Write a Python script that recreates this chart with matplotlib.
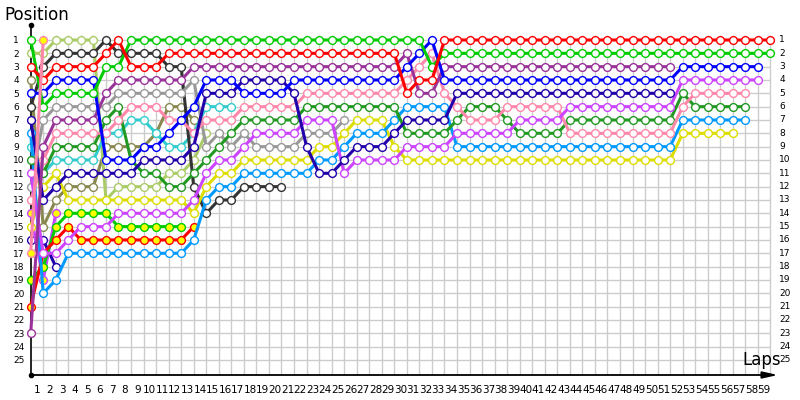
import matplotlib
matplotlib.use("Agg")
import matplotlib.pyplot as plt
from matplotlib.transforms import blended_transform_factory

# positions per lap, index 0 = grid
RED = [3, 4, 3, 3, 3, 3, 2, 1, 3, 3, 3, 2, 2, 2, 2, 2, 2, 2, 2, 2, 2, 2, 2, 2, 2, 2, 2, 2, 2, 2,
       5, 4, 4, 1, 1, 1, 1, 1, 1, 1, 1, 1, 1, 1, 1, 1, 1, 1, 1, 1, 1, 1, 1, 1, 1, 1, 1, 1, 1, 1]
GREEN = [1, 6, 5, 5, 5, 5, 3, 3, 1, 1, 1, 1, 1, 1, 1, 1, 1, 1, 1, 1, 1, 1, 1, 1, 1, 1, 1, 1, 1, 1,
         1, 1, 3, 2, 2, 2, 2, 2, 2, 2, 2, 2, 2, 2, 2, 2, 2, 2, 2, 2, 2, 2, 2, 2, 2, 2, 2, 2, 2, 2]
PURPLE = [23, 9, 7, 7, 7, 7, 5, 4, 4, 4, 4, 4, 4, 3, 3, 3, 3, 3, 3, 3, 3, 3, 3, 3, 3, 3, 3, 3, 3, 3,
          2, 5, 5, 3, 3, 3, 3, 3, 3, 3, 3, 3, 3, 3, 3, 3, 3, 3, 3, 3, 3, 3]
BLUE = [5, 5, 4, 4, 4, 4, 10, 10, 10, 9, 9, 8, 7, 6, 4, 4, 4, 5, 5, 5, 5, 4, 4, 4, 4, 4, 4, 4, 4, 4,
        3, 2, 1, 4, 4, 4, 4, 4, 4, 4, 4, 4, 4, 4, 4, 4, 4, 4, 4, 4, 4, 4, 3, 3, 3, 3, 3, 3, 3]
NAVY = [7, 13, 12, 11, 11, 11, 11, 11, 11, 10, 10, 10, 10, 9, 5, 5, 5, 4, 4, 4, 4, 5, 9, 11, 11, 10,
        9, 9, 9, 8, 7, 7, 7, 7, 5, 5, 5, 5, 5, 5, 5, 5, 5, 5, 5, 5, 5, 5, 5, 5, 5, 5]
PINK = [13, 10, 8, 8, 8, 8, 8, 7, 6, 6, 6, 7, 7, 8, 7, 7, 7, 6, 6, 6, 6, 6, 5, 5, 5, 5, 5, 5, 5, 5,
        4, 3, 2, 5, 6, 7, 7, 7, 6, 6, 6, 6, 6, 8, 8, 8, 8, 8, 8, 8, 8, 8, 6, 5, 5, 5, 5, 5]
DKGREEN = [10, 11, 9, 9, 9, 9, 7, 6, 10, 11, 11, 12, 12, 11, 10, 9, 8, 7, 7, 7, 7, 7, 6, 6, 6, 6,
           6, 6, 6, 6, 8, 8, 8, 8, 7, 6, 6, 6, 7, 8, 8, 8, 8, 7, 7, 7, 7, 7, 7, 7, 7, 7, 5, 6, 6,
           6, 6, 6]
LTBLUE = [8, 20, 19, 17, 17, 17, 17, 17, 17, 17, 17, 17, 17, 16, 13, 12, 12, 11, 11, 11, 11, 11,
          11, 10, 10, 9, 8, 8, 8, 7, 6, 6, 6, 6, 9, 9, 9, 9, 9, 9, 9, 9, 9, 9, 9, 9, 9, 9, 9, 9,
          9, 9, 7, 7, 7, 7, 7, 7]
YELLOW = [15, 12, 11, 13, 13, 13, 13, 13, 13, 13, 13, 13, 13, 14, 12, 11, 11, 10, 10, 10, 10, 10,
          10, 9, 9, 8, 7, 7, 7, 9, 10, 10, 10, 10, 10, 10, 10, 10, 10, 10, 10, 10, 10, 10, 10, 10,
          10, 10, 10, 10, 10, 10, 8, 8, 8, 8, 8]
VIOLET = [11, 17, 17, 16, 15, 15, 15, 14, 14, 14, 14, 14, 14, 13, 11, 10, 10, 9, 8, 8, 8, 8, 7, 7,
          7, 11, 10, 10, 10, 10, 9, 9, 9, 9, 8, 8, 8, 8, 8, 7, 7, 7, 7, 6, 6, 6, 6, 6, 6, 6, 6, 6,
          4, 4, 4, 4, 4, 4, 4]
GRAY = [12, 7, 6, 6, 6, 6, 6, 5, 5, 5, 5, 5, 5, 4, 9, 8, 9, 8, 9, 9, 9, 9, 8, 8, 8, 7]
DKGRAY = [6, 3, 2, 2, 2, 2, 1, 2, 2, 2, 2, 3, 3, 12, 14, 13, 13, 12, 12, 12, 12]
CYAN = [9, 11, 10, 10, 10, 10, 8, 8, 7, 7, 8, 9, 9, 8, 6, 6, 6]
OLIVE = [4, 15, 13, 12, 12, 12, 9, 9, 9, 9, 8, 6, 6, 7]
LTOLIVE = [2, 2, 1, 1, 1, 1, 13, 12, 12, 12, 12, 11, 11, 10, 8]
RED_Y = [21, 17, 16, 15, 16, 16, 16, 16, 16, 16, 16, 16, 16, 15]
GREEN_Y = [19, 18, 15, 14, 14, 14, 14, 15, 15, 15, 15, 15, 15]
PINK_Y = [17, 1]
VIOLET_Y = [14, 19, 14]
NAVY_2 = [16, 16, 18]

SERIES = [
    (NAVY_2, "#2200aa", "white"),
    (VIOLET_Y, "#cc44ff", "#ffff00"),
    (OLIVE, "#888850", "white"),
    (LTOLIVE, "#aacc66", "white"),
    (CYAN, "#33cccc", "white"),
    (DKGRAY, "#333333", "white"),
    (GRAY, "#999999", "white"),
    (GREEN_Y, "#00cc00", "#ffff00"),
    (RED_Y, "#ff0000", "#ffff00"),
    (YELLOW, "#dddd00", "white"),
    (LTBLUE, "#0099ff", "white"),
    (DKGREEN, "#229922", "white"),
    (PINK, "#ff88aa", "white"),
    (VIOLET, "#cc44ff", "white"),
    (NAVY, "#2200aa", "white"),
    (PURPLE, "#993399", "white"),
    (BLUE, "#0000ff", "white"),
    (GREEN, "#00cc00", "white"),
    (RED, "#ff0000", "white"),
    (PINK_Y, "#ff88aa", "#ffff00"),
]

W, H = 800, 400
fig = plt.figure(figsize=(W / 100, H / 100), dpi=100)
x0, x1, ytop, ybot = 30.7, 778, 25, 375
ax = fig.add_axes([x0 / W, 1 - ybot / H, (x1 - x0) / W, (ybot - ytop) / H])
ax.set_xlim(0, 59.6)
ax.set_ylim(26.13, -0.125)

# grid
ax.vlines(range(1, 60), 0.6, 26.13, color="#cccccc", lw=1, zorder=0)
ax.hlines(range(1, 26), 0, 59, color="#cccccc", lw=1, zorder=0)

for pos, col, fill in SERIES:
    ax.plot(range(len(pos)), pos, "-o", color=col, lw=2.2, ms=5.6,
            mfc=fill, mec=col, mew=1.0, zorder=3, clip_on=False)

for s in ("top", "right", "bottom"):
    ax.spines[s].set_visible(False)
ax.spines["left"].set_color("black")
ax.spines["left"].set_linewidth(1.2)
ax.annotate("", xy=(1.0, 0), xytext=(0, 0), xycoords="axes fraction",
            arrowprops=dict(arrowstyle="-|>,head_length=0.9,head_width=0.2",
                            color="black", lw=1.3, shrinkA=0, shrinkB=0))
ax.plot([0, 0], [-0.125, 26.13], "o", color="black", ms=3, clip_on=False, zorder=5)

ax.set_xticks([k - 0.5 for k in range(1, 60)])
ax.set_xticklabels([str(k) for k in range(1, 60)], fontsize=7.5)
ax.set_yticks(range(1, 26))
ax.set_yticklabels([str(p) for p in range(1, 26)], fontsize=6.5)
for lbl in ax.get_yticklabels():
    lbl.set_ha("left")
ax.tick_params(axis="x", length=0, pad=7)
ax.tick_params(axis="y", length=0, pad=12.5)

tr = blended_transform_factory(ax.transAxes, ax.transData)
for p in range(1, 26):
    ax.text(1.0015, p, str(p), transform=tr, ha="left", va="center", fontsize=6.5)

fig.text(4 / W, 1 - 15 / H, "Position", fontsize=12, ha="left", va="center")
fig.text(742 / W, 1 - 360 / H, "Laps", fontsize=12, ha="left", va="center")

fig.savefig("out.png", dpi=100)
